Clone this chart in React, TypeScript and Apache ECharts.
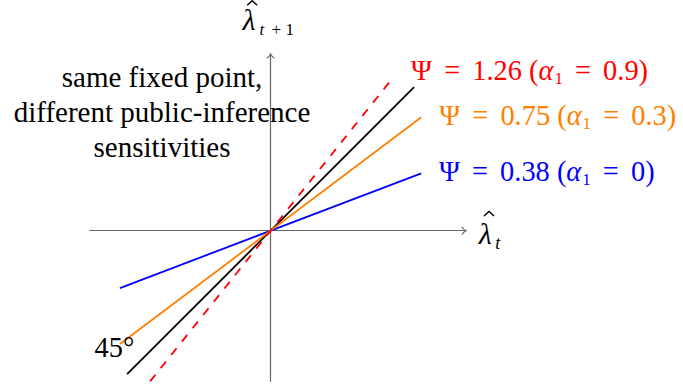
import React, { useEffect, useRef } from "react";
import * as echarts from "echarts";

const SERIF = "Liberation Serif, DejaVu Serif, serif";

// axis ranges in data units
const xRange = [-1.26, 1.35];
const yRange = [-1.05, 1.22];

// endpoints of each mapping
const line45 = [[-1.0, -1.0], [1.0, 1.0]];
const lineHigh = [[-0.84, -1.05], [0.84, 1.05]];
const lineMid = [[-1.05, -0.79], [1.05, 0.79]];
const lineLow = [[-1.05, -0.4], [1.05, 0.4]];

// label values: [Psi, alpha_1]
const labelHigh = ["1.26", "0.9"];
const labelMid = ["0.75", "0.3"];
const labelLow = ["0.38", "0"];
const angleLabel = "45°";
const noteLines = ["same fixed point,", "different public-inference", "sensitivities"];
const axisSymbol = "λ";
const xSub = ["t"];
const ySub = ["t", "+", "1"];

const RED = "#ff0000";
const ORANGE = "#ff8000";
const BLUE = "#0000ff";
const BLACK = "#000000";
const AXIS = "#666666";

const FS = 28.4;
const SUB = 17;
const ARROW =
  "path://M0,6 Q3.5,3.6 5,0 Q6.5,3.6 10,6 L9.1,6.9 Q5.9,4.9 5,2.4 Q4.1,4.9 0.9,6.9 Z";

const mkRich = (color: string) => ({
  psi: { fontFamily: SERIF, fontSize: FS, color, lineHeight: 40 },
  num: { fontFamily: SERIF, fontSize: FS, color, lineHeight: 40 },
  eq: { fontFamily: SERIF, fontSize: FS, color, lineHeight: 40, padding: [0, 5, 0, 5] },
  alp: { fontFamily: SERIF, fontSize: FS, color, lineHeight: 40, fontStyle: "italic" },
  sub: { fontFamily: SERIF, fontSize: SUB, color, lineHeight: 22, padding: [16, 0, 0, 1] },
});
const psiText = (v: string[]) =>
  `{psi|Ψ}{eq| = }{num|${v[0]} (}{alp|α}{sub|1}{eq| = }{num|${v[1]})}`;

const endLabel = (v: string[], color: string, distance: number, dy: number) => ({
  show: true,
  position: "right",
  distance,
  offset: [0, dy],
  align: "left",
  verticalAlign: "middle",
  fontFamily: SERIF,
  fontSize: FS,
  lineHeight: 40,
  color,
  formatter: () => psiText(v),
  rich: mkRich(color),
});

const mkSeries = (
  name: string,
  pts: number[][],
  color: string,
  dashed: boolean,
  firstLabel: any,
  lastLabel: any
) => ({
  name,
  type: "line",
  clip: false,
  showSymbol: true,
  symbol: "circle",
  symbolSize: 0,
  itemStyle: { color },
  lineStyle: { color, width: 1.8, type: dashed ? [8.5, 8.5] : "solid" },
  emphasis: { disabled: true },
  data: pts.map((p, i) => {
    const lbl = i === 0 ? firstLabel : i === pts.length - 1 ? lastLabel : null;
    return lbl ? { value: p, label: lbl } : { value: p };
  }),
});

const txt = (text: string, x: number, y: number, size: number, italic: boolean) => ({
  type: "text",
  x,
  y,
  style: {
    text,
    fontFamily: SERIF,
    fontSize: size,
    fontStyle: italic ? "italic" : "normal",
    fill: BLACK,
    align: "left",
    verticalAlign: "middle",
  },
});
const hat = (cx: number, by: number) => ({
  type: "polyline",
  shape: { points: [[cx - 5, by], [cx, by - 4.6], [cx + 5, by]] },
  style: { stroke: BLACK, lineWidth: 1.4, fill: "none", lineJoin: "miter" },
});

export default function App() {
  const ref = useRef<HTMLDivElement>(null);
  useEffect(() => {
    if (!ref.current) return;
    const chart = echarts.init(ref.current, null, { renderer: "svg" });
    const hidden = {
      axisTick: { show: false },
      axisLabel: { show: false },
      splitLine: { show: false },
    };
    const axisLine = {
      show: true,
      onZero: true,
      symbol: ["none", ARROW],
      symbolSize: [8.5, 6],
      lineStyle: { color: AXIS, width: 1.2 },
    };
    const option: any = {
      animation: false,
      backgroundColor: "#ffffff",
      textStyle: { fontFamily: SERIF },
      grid: { left: 89.8, top: 55.6, width: 374.5, height: 325.8, outerBoundsMode: "none" },
      xAxis: { type: "value", min: xRange[0], max: xRange[1], ...hidden, axisLine },
      yAxis: { type: "value", min: yRange[0], max: yRange[1], ...hidden, axisLine },
      series: [
        mkSeries(
          "45 degree",
          line45,
          BLACK,
          false,
          {
            show: true,
            position: [-32.6, -26.8],
            align: "left",
            verticalAlign: "middle",
            fontFamily: SERIF,
            fontSize: FS,
            color: BLACK,
            formatter: () => angleLabel,
          },
          null
        ),
        mkSeries("psi038", lineLow, BLUE, false, null, endLabel(labelLow, BLUE, 17.7, -1.9)),
        mkSeries("psi075", lineMid, ORANGE, false, null, endLabel(labelMid, ORANGE, 18, -2.3)),
        mkSeries("psi126", lineHigh, RED, true, null, endLabel(labelHigh, RED, 20, -9.6)),
      ],
    };
    chart.setOption(option);

    // axis-name anchors from the axes' own scales
    const [xe, y0] = chart.convertToPixel({ gridIndex: 0 }, [xRange[1], 0]) as number[];
    const [x0, ye] = chart.convertToPixel({ gridIndex: 0 }, [0, yRange[1]]) as number[];

    chart.setOption({
      graphic: [
        {
          type: "text",
          x: 162,
          y: 59.7,
          style: {
            text: noteLines.join("\n"),
            fontFamily: SERIF,
            fontSize: 29,
            lineHeight: 35,
            fill: BLACK,
            align: "center",
            verticalAlign: "top",
          },
        },
        {
          type: "group",
          x: xe,
          y: y0,
          children: [
            txt(axisSymbol, 14.5, 2.5, 30, true),
            txt(xSub[0], 31, 12.5, SUB + 1, true),
            hat(24.7, -14.6),
          ],
        },
        {
          type: "group",
          x: x0,
          y: ye,
          children: [
            txt(axisSymbol, -28, -36.4, 30, true),
            txt(ySub[0], -11, -25.7, SUB, true),
            txt(ySub[1], 1, -25.7, SUB, false),
            txt(ySub[2], 14.8, -25.7, SUB, false),
            hat(-18.4, -50.3),
          ],
        },
      ],
    });
    return () => chart.dispose();
  }, []);
  return (
    <div
      ref={ref}
      style={{ position: "absolute", left: 0, top: 0, width: 683, height: 390, background: "#fff" }}
    />
  );
}
